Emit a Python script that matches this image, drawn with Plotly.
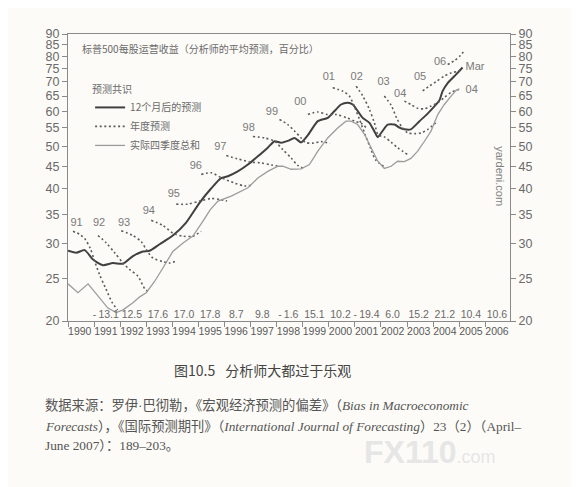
import math
import plotly.graph_objects as go

# ---------------- data ----------------
FWD_YEARS = [1990.00, 1990.32, 1990.64, 1990.96, 1991.34, 1991.72, 1992.11, 1992.49, 1992.87,
             1993.13, 1993.51, 1994.02, 1994.53, 1995.05, 1995.48, 1995.87, 1996.13, 1996.51,
             1996.90, 1997.28, 1997.66, 1997.92, 1998.17, 1998.43, 1998.69, 1998.94, 1999.20,
             1999.58, 1999.96, 2000.22, 2000.47, 2000.73, 2000.92, 2001.30, 2001.56, 2001.75,
             2001.88, 2002.00, 2002.26, 2002.52, 2002.71, 2002.90, 2003.15, 2003.48, 2003.79,
             2004.05, 2004.24, 2004.37, 2004.56, 2004.82, 2004.94, 2005.13]
FWD_VALUES = [28.9, 28.6, 29.0, 27.6, 26.8, 27.1, 27.0, 28.1, 28.8,
              28.9, 29.9, 31.3, 33.5, 37.2, 40.0, 42.3, 42.7, 43.8,
              45.4, 47.4, 49.6, 51.3, 50.9, 51.4, 52.2, 51.0, 53.0,
              57.0, 58.0, 60.1, 62.2, 62.8, 62.2, 58.0, 56.5, 54.0,
              52.4, 53.5, 56.0, 56.0, 55.1, 54.6, 54.6, 57.0, 59.3,
              61.6, 63.5, 66.8, 69.6, 72.2, 73.4, 75.5]

ACT_YEARS = [1990.00, 1990.38, 1990.77, 1991.15, 1991.53, 1991.85, 1992.11, 1992.49, 1992.75,
             1993.00, 1993.32, 1993.64, 1994.02, 1994.41, 1994.79, 1995.17, 1995.45, 1995.75,
             1996.26, 1996.90, 1997.28, 1997.66, 1998.05, 1998.24, 1998.56, 1998.94, 1999.26,
             1999.58, 1999.96, 2000.34, 2000.66, 2000.85, 2001.11, 2001.37, 2001.62, 2001.88,
             2002.13, 2002.39, 2002.64, 2002.90, 2003.15, 2003.41, 2003.67, 2003.92, 2004.18,
             2004.43, 2004.69, 2004.88, 2005.01]
ACT_VALUES = [24.3, 23.2, 24.3, 22.8, 21.4, 20.9, 21.2, 22.0, 22.7,
              23.2, 24.6, 26.4, 28.8, 30.1, 31.2, 33.7, 35.8, 37.5,
              38.5, 40.2, 42.3, 43.8, 45.0, 45.0, 44.3, 44.4, 45.4,
              48.7, 52.2, 55.0, 57.0, 57.0, 56.0, 53.2, 49.6, 46.2,
              44.5, 45.0, 46.2, 46.1, 46.9, 48.7, 51.3, 54.1, 59.0,
              62.2, 65.0, 67.0, 67.5]

# annual consensus forecasts: [year, value] pairs
FC_91 = [[1990.19, 32.0], [1990.45, 31.5], [1990.64, 30.8], [1990.85, 29.3], [1991.0, 27.6],
         [1991.2, 25.6], [1991.45, 23.7], [1991.7, 22.0], [1991.9, 21.2]]
FC_92 = [[1991.15, 31.3], [1991.47, 30.1], [1991.79, 28.6], [1992.11, 27.1], [1992.36, 26.2],
         [1992.68, 25.3], [1992.94, 23.7], [1993.13, 23.2]]
FC_93 = [[1992.04, 32.1], [1992.49, 31.3], [1992.81, 30.3], [1993.0, 29.1], [1993.26, 27.8],
         [1993.64, 27.3], [1993.9, 27.1], [1994.15, 27.4]]
FC_94 = [[1993.19, 33.9], [1993.64, 33.0], [1994.02, 31.7], [1994.41, 31.2], [1994.79, 31.2],
         [1995.11, 32.0]]
FC_95 = [[1994.15, 36.9], [1994.6, 36.9], [1995.05, 37.5], [1995.48, 38.0], [1995.85, 37.8],
         [1996.1, 37.5]]
FC_96 = [[1995.11, 43.1], [1995.49, 43.5], [1995.87, 42.4], [1996.39, 41.2], [1996.77, 40.6],
         [1997.1, 40.8]]
FC_97 = [[1996.07, 47.6], [1996.5, 46.8], [1997.0, 46.0], [1997.4, 45.8], [1997.8, 45.3],
         [1998.1, 45.0]]
FC_98 = [[1997.09, 52.6], [1997.54, 52.2], [1997.92, 51.3], [1998.24, 49.1], [1998.56, 47.0],
         [1998.81, 45.2], [1999.1, 44.3]]
FC_99 = [[1998.11, 57.5], [1998.43, 56.0], [1998.69, 54.1], [1998.94, 52.2], [1999.1, 51.0],
         [1999.4, 50.8], [1999.7, 51.2], [2000.05, 50.7]]
FC_00 = [[1999.2, 59.0], [1999.58, 59.8], [1999.96, 59.0], [2000.3, 59.0], [2000.7, 58.0],
         [2001.0, 57.0], [2001.25, 56.3], [2001.45, 55.0]]
FC_01 = [[2000.15, 67.9], [2000.54, 66.7], [2000.79, 65.0], [2000.98, 61.6], [2001.18, 57.5],
         [2001.4, 53.0], [2001.6, 49.5], [2001.8, 46.5], [2002.1, 45.0]]
FC_02 = [[2001.05, 68.5], [2001.3, 65.1], [2001.56, 60.6], [2001.75, 56.5], [2001.9, 53.0],
         [2002.13, 52.5], [2002.4, 51.0], [2002.64, 49.6], [2003.03, 47.8]]
FC_03 = [[2002.13, 65.0], [2002.39, 62.0], [2002.6, 58.0], [2002.8, 55.3], [2003.03, 53.6],
         [2003.3, 53.4], [2003.55, 53.6], [2003.8, 54.6], [2004.1, 56.5]]
FC_04 = [[2002.9, 63.3], [2003.15, 62.2], [2003.4, 61.0], [2003.65, 60.8], [2003.9, 61.6],
         [2004.18, 62.8], [2004.43, 64.5], [2004.69, 66.3], [2004.88, 67.0], [2005.07, 67.5]]
FC_05 = [[2003.6, 66.8], [2003.86, 68.5], [2004.11, 70.1], [2004.43, 72.2], [2004.69, 73.4],
         [2004.94, 74.0], [2005.13, 74.6]]
FC_06 = [[2004.56, 76.7], [2004.82, 78.3], [2005.05, 80.4], [2005.2, 82.5]]

FORECASTS = [FC_91, FC_92, FC_93, FC_94, FC_95, FC_96, FC_97, FC_98,
             FC_99, FC_00, FC_01, FC_02, FC_03, FC_04, FC_05, FC_06]

# labels of forecast curves (text, year, value)
LABEL_TEXT = ["91", "92", "93", "94", "95", "96", "97", "98", "99", "00",
              "01", "02", "03", "04", "05", "06", "Mar", "04"]
LABEL_YEAR = [1990.33, 1991.19, 1992.15, 1993.10, 1994.06, 1994.90, 1995.84, 1996.93, 1997.82,
              1998.91, 2000.00, 2001.07, 2002.10, 2002.74, 2003.50, 2004.27, 2005.61, 2005.48]
LABEL_VALUE = [33.3, 33.3, 33.3, 35.5, 38.9, 45.0, 49.6, 55.0, 59.8,
               62.8, 71.6, 71.6, 70.0, 65.8, 71.8, 77.8, 75.7, 67.0]

# realised annual growth rates written along the bottom
GROWTH_YEARS = list(range(1991, 2007))
GROWTH_VALUES = [-13.1, 12.5, 17.6, 17.0, 17.8, 8.7, 9.8, -1.6, 15.1, 10.2,
                 -19.4, 6.0, 15.2, 21.2, 10.4, 10.6]

YEAR_TICKS = list(range(1990, 2007))
Y_TICKS = list(range(20, 95, 5))

# ---------------- figure ----------------
AX = "#8a8a8a"
TXT = "#6a6a6a"
BG = "#fcfbf7"
CJK = "Noto Sans CJK SC"

fig = go.Figure()

fig.add_trace(go.Scatter(
    x=FWD_YEARS, y=FWD_VALUES, mode="lines", name="12个月后的预测",
    line=dict(color="#404040", width=2, shape="spline", smoothing=0.6),
    hoverinfo="skip"))

for i, fc in enumerate(FORECASTS):
    fig.add_trace(go.Scatter(
        x=[p[0] for p in fc], y=[p[1] for p in fc], mode="lines",
        name="年度预测", legendgroup="fc", showlegend=(i == 0),
        line=dict(color="#5c5c5c", width=1.6, dash="2px,2.6px", shape="spline", smoothing=0.8),
        hoverinfo="skip"))

fig.add_trace(go.Scatter(
    x=ACT_YEARS, y=ACT_VALUES, mode="lines", name="实际四季度总和",
    line=dict(color="#9c9c9c", width=1.3),
    hoverinfo="skip"))

fig.add_trace(go.Scatter(
    x=LABEL_YEAR, y=LABEL_VALUE, mode="text", text=LABEL_TEXT,
    textfont=dict(family="Liberation Sans", size=11, color="#7a7a7a"),
    showlegend=False, hoverinfo="skip"))

growth_text = [("-\u2009%.1f" % abs(v)) if v < 0 else ("%.1f" % v) for v in GROWTH_VALUES]
fig.add_trace(go.Scatter(
    x=[y + 0.45 for y in GROWTH_YEARS], y=[20.6] * len(GROWTH_YEARS), mode="text",
    text=growth_text,
    textfont=dict(family="Liberation Sans", size=10.5, color="#6a6a6a"),
    showlegend=False, hoverinfo="skip"))

# invisible trace to carry the right-hand axis
fig.add_trace(go.Scatter(x=[1990], y=[30], yaxis="y2", mode="markers",
                         marker=dict(opacity=0), showlegend=False, hoverinfo="skip"))

yaxis_common = dict(
    type="log", range=[math.log10(20), math.log10(90)],
    tickvals=Y_TICKS, ticktext=[str(v) for v in Y_TICKS],
    ticks="outside", ticklen=5, tickcolor=AX, tickwidth=1,
    showline=True, linecolor=AX, linewidth=1,
    showgrid=False, zeroline=False,
    tickfont=dict(family="Liberation Sans", size=12.5, color=TXT),
)

fig.update_layout(
    width=579, height=487, autosize=False,
    margin=dict(l=60, r=77, t=26, b=174),
    paper_bgcolor=BG, plot_bgcolor=BG,
    xaxis=dict(
        range=[1990, 2006.95],
        tickvals=[y + 0.45 for y in YEAR_TICKS], ticktext=[str(y) for y in YEAR_TICKS],
        ticks="", tickangle=0, showline=True, linecolor=AX, linewidth=1, mirror=True,
        showgrid=False, zeroline=False,
        tickfont=dict(family="Liberation Sans", size=10.5, color="#5a5a5a"),
        minor=dict(tickvals=YEAR_TICKS, ticks="outside", ticklen=5, tickcolor=AX, tickwidth=1,
                   showgrid=False),
    ),
    yaxis=yaxis_common,
    yaxis2=dict(overlaying="y", side="right", **yaxis_common),
    legend=dict(
        x=0.05, y=0.84, xanchor="left", yanchor="top",
        bgcolor="rgba(0,0,0,0)", itemwidth=30, tracegroupgap=0,
        font=dict(family=CJK, size=10, color="#6a6a6a"),
        title=dict(text="预测共识", font=dict(family=CJK, size=10, color="#6a6a6a")),
    ),
    showlegend=True,
)

SERIF = "Liberation Serif, " + CJK
annotations = [
    dict(text="标普500每股运营收益（分析师的平均预测，百分比）",
         xref="paper", yref="paper", x=0.027, y=0.951, xanchor="left", yanchor="middle",
         showarrow=False, font=dict(family=CJK, size=10, color="#6a6a6a")),
    dict(text="yardeni.com", xref="paper", yref="paper", x=0.977, y=0.505,
         xanchor="center", yanchor="middle", textangle=90, showarrow=False,
         font=dict(family="Liberation Sans", size=11, color="#808080")),
    dict(text="图10.5\u2002 分析师大都过于乐观", xref="paper", yref="paper",
         x=0.439, y=-0.171, xanchor="center", yanchor="middle", showarrow=False,
         font=dict(family=CJK, size=14, color="#444444")),
    dict(text="数据来源：罗伊·巴彻勒，《宏观经济预测的偏差》（<i>Bias in Macroeconomic</i>",
         xref="paper", yref="paper", x=-0.0566, y=-0.2927, xanchor="left", yanchor="middle",
         showarrow=False, font=dict(family=SERIF, size=13.3, color="#555555")),
    dict(text="<i>Forecasts</i>），《国际预测期刊》（<i>International Journal of Forecasting</i>）23（2）（April–",
         xref="paper", yref="paper", x=-0.0566, y=-0.3659, xanchor="left", yanchor="middle",
         showarrow=False, font=dict(family=SERIF, size=13.3, color="#555555")),
    dict(text="June 2007）：189–203。",
         xref="paper", yref="paper", x=-0.0566, y=-0.4355, xanchor="left", yanchor="middle",
         showarrow=False, font=dict(family=SERIF, size=13.3, color="#555555")),
    dict(text="<b>FX110</b><span style='font-size:18px'>.com</span>",
         xref="paper", yref="paper", x=0.82, y=-0.457, xanchor="center", yanchor="middle",
         showarrow=False, font=dict(family="Liberation Sans", size=32, color="#e6e6e6")),
]
fig.update_layout(annotations=annotations)

fig.write_html("out.html")
